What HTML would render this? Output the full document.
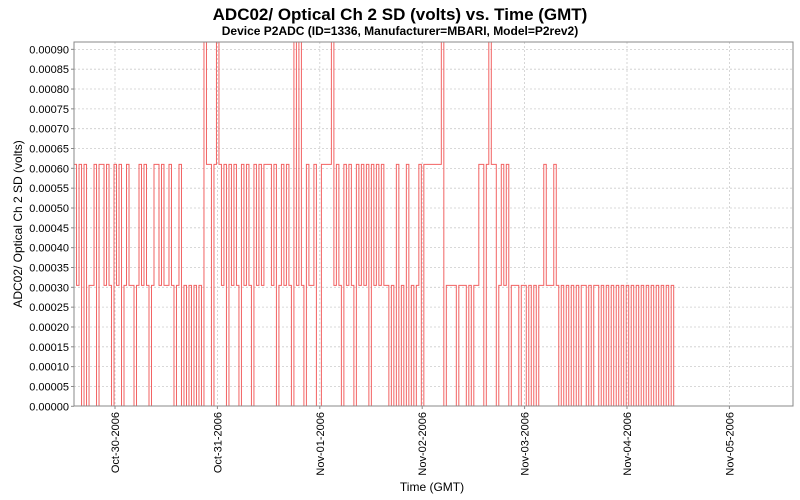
<!DOCTYPE html>
<html><head><meta charset="utf-8"><style>
body{margin:0;background:#fff;}
svg{display:block;font-family:"Liberation Sans",sans-serif;}
</style></head><body>
<svg id="chart" width="800" height="500">
<text x="400" y="20" text-anchor="middle" font-size="17" font-weight="bold">ADC02/ Optical Ch 2 SD (volts) vs. Time (GMT)</text>
<text x="400" y="35" text-anchor="middle" font-size="12" font-weight="bold">Device P2ADC (ID=1336, Manufacturer=MBARI, Model=P2rev2)</text>
<rect x="74" y="42" width="719" height="364" fill="#fff"/>
<g id="grid"></g>
<g id="yaxis"></g>
<g id="xaxis"></g>
<defs><clipPath id="clip"><rect x="74" y="42" width="719" height="364"/></clipPath></defs>
<path id="series" fill="none" stroke="#f04848" stroke-opacity="0.85" stroke-width="1" clip-path="url(#clip)"/>
<rect x="74" y="42" width="719" height="364" fill="none" stroke="#888" stroke-width="1"/>
<text transform="translate(22,224) rotate(-90)" text-anchor="middle" font-size="12">ADC02/ Optical Ch 2 SD (volts)</text>
<text x="432" y="491" text-anchor="middle" font-size="12">Time (GMT)</text>
</svg>
<script>
const yTicks = [0,0.00005,0.0001,0.00015,0.0002,0.00025,0.0003,0.00035,0.0004,0.00045,0.0005,0.00055,0.0006,0.00065,0.0007,0.00075,0.0008,0.00085,0.0009];
const xTickDays = [0,1,2,3,4,5,6];
const xTickLabels = ["Oct-30-2006","Oct-31-2006","Nov-01-2006","Nov-02-2006","Nov-03-2006","Nov-04-2006","Nov-05-2006"];
const levels = [0,0.000305,0.00061,0.00095];
const startDay = -0.40;
const stepDays = 0.0244;
const levelCodes = (
 "2120201120"+"2212102120"+"1211012121"+"0122121121"+"0120101010"+"1032202321"+
 "2021210212"+"1021212221"+"2012121031"+"3102112002"+"2223121021"+"2102121202"+
 "1212110102"+"0102010120"+"2222222301"+"1110111010"+"1122023220"+"1212011101"+
 "1010101121"+"1121010101"+"0101101011"+"0101010101"+"0101010101"+"0101010101"
).split("").map(Number);

const NS="http://www.w3.org/2000/svg";
const L=74,R=793,T=42,B=406;
const dayPx=102.4, x0=115;
const xs=d=>x0+d*dayPx;
const ys=v=>406.3-v/0.00005*19.83;
const grid=document.getElementById("grid"), ya=document.getElementById("yaxis"), xa=document.getElementById("xaxis");
function mk(tag,attrs,parent){const e=document.createElementNS(NS,tag);for(const k in attrs)e.setAttribute(k,attrs[k]);parent.appendChild(e);return e;}
yTicks.forEach((v,i)=>{
  const y=ys(v);
  if(i>0){const g=mk("line",{x1:L,x2:R,y1:y,y2:y,stroke:"#ccc","stroke-dasharray":"2,2","stroke-width":0.8},grid);
  
  }
  const tk=mk("line",{x1:L-3,x2:L,y1:y,y2:y,stroke:"#888"},ya);
  
  
  const t=mk("text",{x:L-5,y:y+4,"text-anchor":"end","font-size":"11"},ya);
  t.textContent=v.toFixed(5);
  
  
});
xTickDays.forEach((d,i)=>{
  const x=xs(d);
  const g=mk("line",{x1:x,x2:x,y1:T,y2:B,stroke:"#ccc","stroke-dasharray":"2,2","stroke-width":0.8},grid);
  
  
  const tk=mk("line",{x1:x,x2:x,y1:B,y2:B+3,stroke:"#888"},xa);
  
  
  const t=mk("text",{transform:`translate(${x+4},${B+6}) rotate(-90)`,"text-anchor":"end","font-size":"11"},xa);
  t.textContent=xTickLabels[i];
  
  
});
let d="";
levelCodes.forEach((c,i)=>{
  const x=xs(startDay+i*stepDays), y=ys(levels[c]);
  d+= i===0?`M${x},${y}`:`V${y}`;
  d+=`H${xs(startDay+(i+1)*stepDays)}`;
});
d+=`V${ys(0)}`;
document.getElementById("series").setAttribute("d",d);
</script>
</body></html>
